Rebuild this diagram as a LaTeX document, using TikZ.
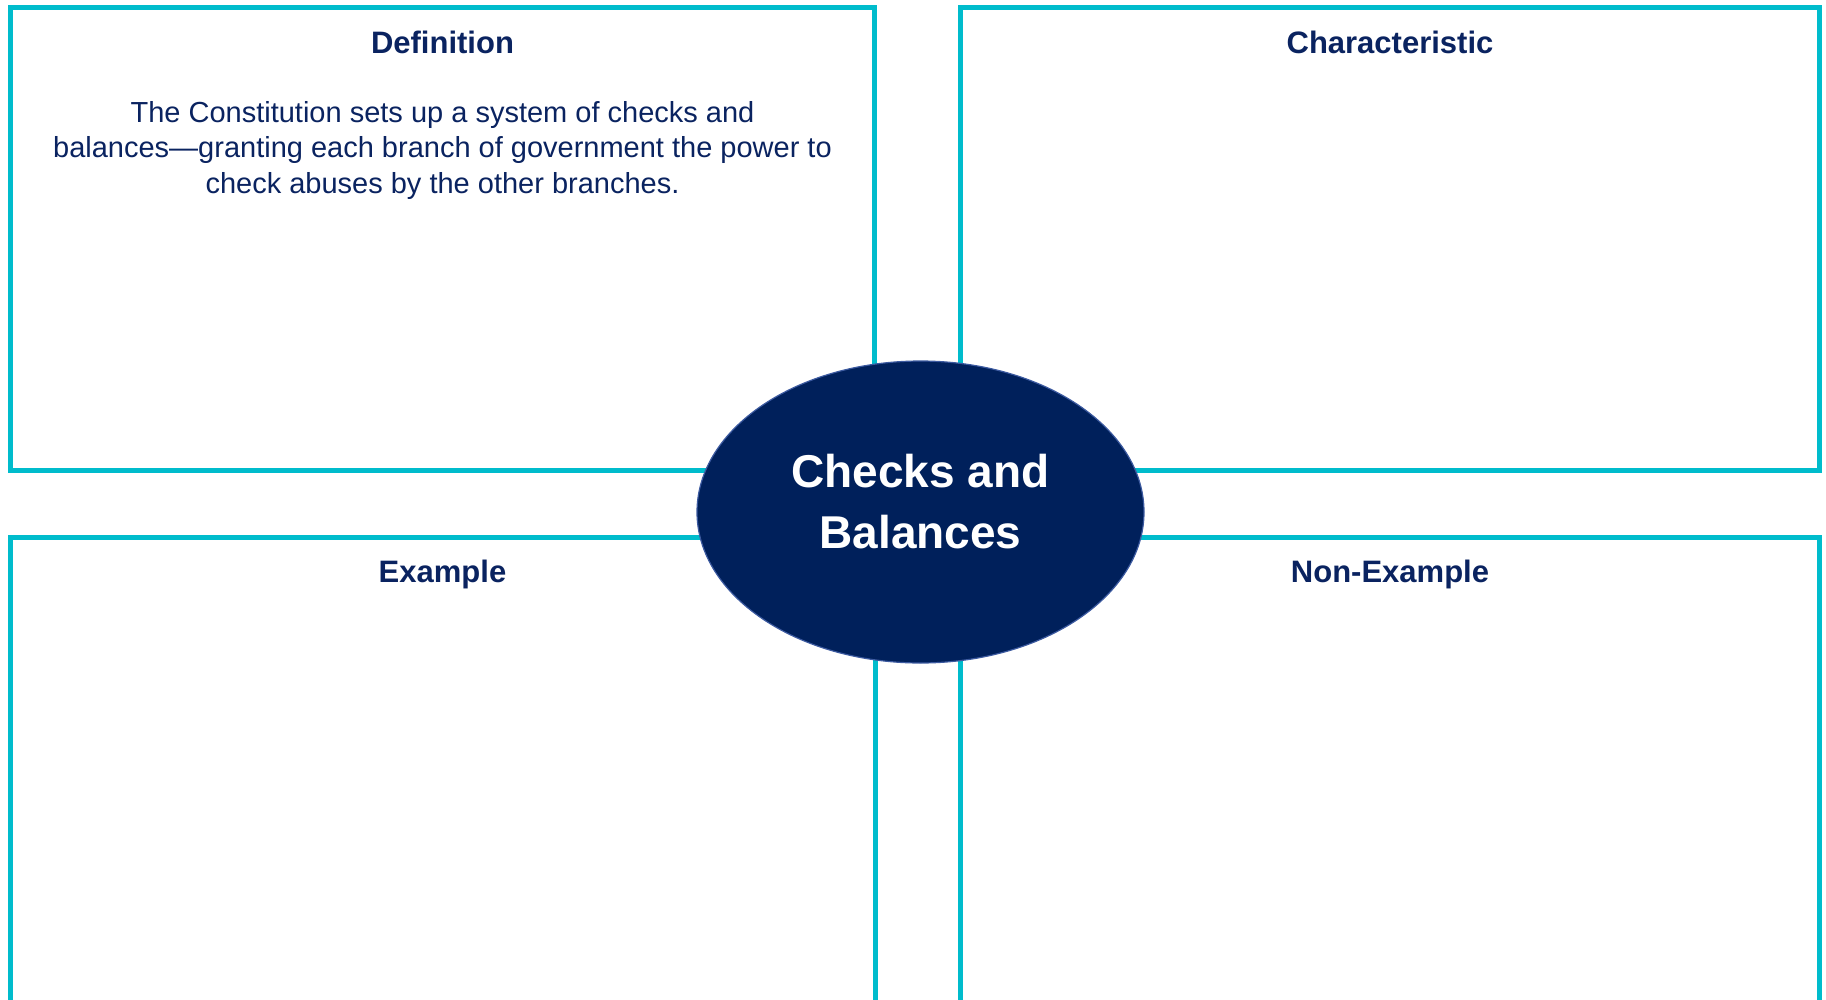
\documentclass[tikz,border=0pt]{standalone}
\usepackage{fontspec}
\setmainfont{Liberation Sans}
\usetikzlibrary{shapes.geometric}
\definecolor{frame}{RGB}{0,188,204}
\definecolor{navy}{RGB}{0,32,91}
\definecolor{navytext}{RGB}{10,35,96}
\definecolor{ringblue}{RGB}{60,90,160}
\tikzset{
  box/.style={draw=frame, line width=5pt, line cap=rect},
  heading/.style={text=navytext, anchor=base, inner sep=0pt, font=\fontsize{31}{36}\selectfont\bfseries},
  bodytext/.style={text=navytext, anchor=base, inner sep=0pt, align=center, font=\fontsize{29}{35.5}\selectfont},
  hub/.style={ellipse, fill=navy, draw=ringblue, line width=1.2pt, minimum width=447pt, minimum height=302pt, inner sep=0pt},
  hubtext/.style={text=white, anchor=base, inner sep=0pt, align=center, font=\fontsize{46}{61}\selectfont\bfseries}
}
\begin{document}
\begin{tikzpicture}[x=1pt,y=-1pt]
\useasboundingbox (0,0) rectangle (1826,999);
% top boxes
\draw[box] (10.5,7) rectangle (874.5,470.5);
\draw[box] (960.5,7) rectangle (1819,470.5);
% bottom boxes (open at the bottom)
\coordinate (blA) at (10.5,1005);
\coordinate (blB) at (10.5,537.5);
\coordinate (blC) at (875,537.5);
\coordinate (blD) at (875,1005);
\draw[box] (blA) -- (blB) -- (blC) -- (blD);
\coordinate (brA) at (960.5,1005);
\coordinate (brB) at (960.5,537.5);
\coordinate (brC) at (1819,537.5);
\coordinate (brD) at (1819,1005);
\draw[box] (brA) -- (brB) -- (brC) -- (brD);
% headings
\node[heading] (def) at (442.5,53) {Definition};
\node[heading] (char) at (1390,53) {Characteristic};
\node[heading] (ex) at (442.5,582) {Example};
\node[heading] (nonex) at (1390,582) {Non-Example};
% definition text (base anchor = last line baseline)
\node[bodytext] (deftext) at (442.5,193) {The Constitution sets up a system of checks and\\balances—granting each branch of government the power to\\check abuses by the other branches.};
% center ellipse
\node[hub] (hub) at (920.5,512) {};
\node[hubtext] (hubtxt) at (920.5,548) {Checks and\\Balances};
\end{tikzpicture}
\end{document}
